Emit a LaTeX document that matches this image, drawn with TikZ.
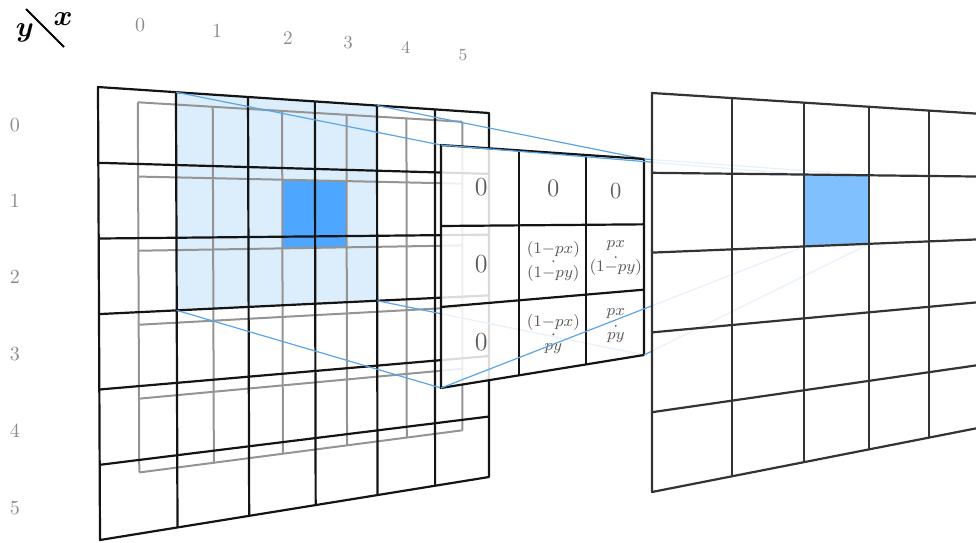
\documentclass[tikz,border=0pt]{standalone}
\usepackage{amsmath}
\definecolor{lightblue}{HTML}{DCEDFC}
\definecolor{kernblue}{HTML}{4DA6FF}
\definecolor{outblue}{HTML}{80C0FF}
\definecolor{linkblue}{HTML}{5AA5E6}
\definecolor{labgray}{HTML}{8A8A8A}
\definecolor{valgray}{HTML}{5A5A5A}
% homography from unit square to a quadrilateral (corners TL, TR, BR, BL)
\newcommand\defplane[9]{%
  \pgfmathsetmacro\hxA{#2/100}\pgfmathsetmacro\hyA{#3/100}%
  \pgfmathsetmacro\hxB{#4/100}\pgfmathsetmacro\hyB{#5/100}%
  \pgfmathsetmacro\hxC{#6/100}\pgfmathsetmacro\hyC{#7/100}%
  \pgfmathsetmacro\hxD{#8/100}\pgfmathsetmacro\hyD{#9/100}%
  \pgfmathsetmacro\dxa{\hxB-\hxC}%
  \pgfmathsetmacro\dxb{\hxD-\hxC}%
  \pgfmathsetmacro\dxc{\hxA-\hxB+\hxC-\hxD}%
  \pgfmathsetmacro\dya{\hyB-\hyC}%
  \pgfmathsetmacro\dyb{\hyD-\hyC}%
  \pgfmathsetmacro\dyc{\hyA-\hyB+\hyC-\hyD}%
  \pgfmathsetmacro\hden{\dxa*\dyb-\dxb*\dya}%
  \pgfmathsetmacro\hg{(\dxc*\dyb-\dxb*\dyc)/\hden}%
  \pgfmathsetmacro\hh{(\dxa*\dyc-\dxc*\dya)/\hden}%
  \pgfmathsetmacro\ha{\hxB-\hxA+\hg*\hxB}%
  \pgfmathsetmacro\hb{\hxD-\hxA+\hh*\hxD}%
  \pgfmathsetmacro\hd{\hyB-\hyA+\hg*\hyB}%
  \pgfmathsetmacro\he{\hyD-\hyA+\hh*\hyD}%
  \expandafter\xdef\csname hp#1a\endcsname{\ha}%
  \expandafter\xdef\csname hp#1b\endcsname{\hb}%
  \expandafter\xdef\csname hp#1c\endcsname{\hxA}%
  \expandafter\xdef\csname hp#1d\endcsname{\hd}%
  \expandafter\xdef\csname hp#1e\endcsname{\he}%
  \expandafter\xdef\csname hp#1f\endcsname{\hyA}%
  \expandafter\xdef\csname hp#1g\endcsname{\hg}%
  \expandafter\xdef\csname hp#1h\endcsname{\hh}%
}
\newcommand\homog[4]{%
  \edef\pa{\csname hp#1a\endcsname}\edef\pb{\csname hp#1b\endcsname}%
  \edef\pc{\csname hp#1c\endcsname}\edef\pd{\csname hp#1d\endcsname}%
  \edef\pe{\csname hp#1e\endcsname}\edef\pf{\csname hp#1f\endcsname}%
  \edef\pg{\csname hp#1g\endcsname}\edef\ph{\csname hp#1h\endcsname}%
  \pgfmathsetmacro\hw{\pg*(#2)+\ph*(#3)+1}%
  \pgfmathsetmacro\hX{100*(\pa*(#2)+\pb*(#3)+\pc)/\hw}%
  \pgfmathsetmacro\hY{100*(\pd*(#2)+\pe*(#3)+\pf)/\hw}%
  \coordinate (#4) at (\hX,\hY);%
}
\begin{document}
\begin{tikzpicture}[x=0.5pt,y=-0.5pt,
  blk/.style={draw=black!92,line width=1.1pt,line join=round},
  gry/.style={draw=black!42,line width=1pt},
  rblk/.style={draw=black!80,line width=1.1pt,line join=round},
  lnk/.style={draw=linkblue,line width=0.6pt},
  veil/.style={fill=white,fill opacity=0.85},
  axlab/.style={text=labgray,inner sep=0pt},
  val/.style={text=valgray,inner sep=0pt,align=center},
  bigval/.style={val,font=\fontsize{12.5}{12.5}\selectfont},
  stackA/.style={val,font={\fontsize{8.2}{12}\selectfont}},
  stackB/.style={val,font={\fontsize{7.6}{12}\selectfont}},
  prod/.style={fill=valgray}]
\useasboundingbox (0,0) rectangle (976,542);
\clip (0,0) rectangle (976,542);
\defplane{L}{98}{87}{489}{113}{489}{477}{100}{540}
\defplane{M}{441}{145}{644}{159}{644}{355}{441}{388}
\defplane{R}{652}{93}{983}{114}{983}{427}{652}{492}
\foreach \i in {0,...,6}{\foreach \j in {0,...,6}{\homog{L}{\i/6}{\j/6}{L-\i-\j}}}
\foreach \i in {0,...,5}{\foreach \j in {0,...,5}{\homog{L}{(\i+0.5)/6}{(\j+0.17)/6}{G-\i-\j}}}
\foreach \i in {0,...,3}{\foreach \j in {0,...,3}{\homog{M}{\i/3}{\j/3}{M-\i-\j}}}
\foreach \i in {0,...,2}{\foreach \j in {0,...,2}{\homog{M}{(\i+0.5)/3}{(\j+0.5)/3}{Mc-\i-\j}}}
\foreach \i in {0,...,5}{\foreach \j in {0,...,5}{\homog{R}{\i/5}{\j/5}{R-\i-\j}}}
% ---- input plane
\fill[lightblue] (L-1-0) -- (L-4-0) -- (L-4-3) -- (L-1-3) -- cycle;
\fill[kernblue] (G-2-1) -- (G-3-1) -- (G-3-2) -- (G-2-2) -- cycle;
\foreach \i in {0,...,5} \draw[gry] (G-\i-0) -- (G-\i-5);
\foreach \j in {0,...,5} \draw[gry] (G-0-\j) -- (G-5-\j);
\foreach \i in {1,...,5} \draw[blk] (L-\i-0) -- (L-\i-6);
\foreach \j in {1,...,5} \draw[blk] (L-0-\j) -- (L-6-\j);
\draw[blk] (L-0-0) -- (L-6-0) -- (L-6-6) -- (L-0-6) -- cycle;
% ---- links input -> kernel
\draw[lnk] (L-1-0) -- (M-0-0);
\draw[lnk] (L-4-0) -- (M-3-0);
\draw[lnk] (L-1-3) -- (M-0-3);
\draw[lnk] (L-4-3) -- (M-3-3);
% ---- kernel plane
\fill[veil] (M-0-0) -- (M-3-0) -- (M-3-3) -- (M-0-3) -- cycle;
\foreach \i in {1,2} \draw[blk] (M-\i-0) -- (M-\i-3);
\foreach \j in {1,2} \draw[blk] (M-0-\j) -- (M-3-\j);
\draw[blk] (M-0-0) -- (M-3-0) -- (M-3-3) -- (M-0-3) -- cycle;
\node[bigval,font=\fontsize{13}{13}\selectfont] (k00) at (Mc-0-0) {0};
\node[bigval] (k10) at (Mc-1-0) {0};
\node[bigval,font=\fontsize{11.5}{11.5}\selectfont] (k20) at (Mc-2-0) {0};
\node[bigval,font=\fontsize{13}{13}\selectfont] (k01) at (Mc-0-1) {0};
\node[bigval,font=\fontsize{13}{13}\selectfont] (k02) at (Mc-0-2) {0};
\node[stackA] (k11) at (Mc-1-1) {$(1{-}px)$\\$(1{-}py)$};
\node[stackB] (k21) at (Mc-2-1) {$px$\\$(1{-}py)$};
\node[stackA] (k12) at (Mc-1-2) {$(1{-}px)$\\$py$};
\node[stackB] (k22) at (Mc-2-2) {$px$\\$py$};
\fill[prod] (k11.center) circle (1.1);
\fill[prod] ([yshift=0.6pt]k21.center) circle (1.0);
\fill[prod] ([yshift=-0.4pt]k12.center) circle (1.1);
\fill[prod] (k22.center) circle (1.0);
% ---- links kernel -> output
\draw[lnk] (M-0-0) -- (R-2-1);
\draw[lnk] (M-3-0) -- (R-3-1);
\draw[lnk] (M-0-3) -- (R-2-2);
\draw[lnk] (M-3-3) -- (R-3-2);
% ---- output plane
\fill[veil] (R-0-0) -- (R-5-0) -- (R-5-5) -- (R-0-5) -- cycle;
\fill[outblue] (R-2-1) -- (R-3-1) -- (R-3-2) -- (R-2-2) -- cycle;
\foreach \i in {1,...,4} \draw[rblk] (R-\i-0) -- (R-\i-5);
\foreach \j in {1,...,4} \draw[rblk] (R-0-\j) -- (R-5-\j);
\draw[rblk] (R-0-0) -- (R-5-0) -- (R-5-5) -- (R-0-5) -- cycle;
% ---- axis labels
\node[font=\fontsize{15}{15}\selectfont,inner sep=0pt] (ylab) at (25,33) {$\boldsymbol{y}$};
\node[font=\fontsize{15}{15}\selectfont,inner sep=0pt] (xlab) at (63,19) {$\boldsymbol{x}$};
\coordinate (d1) at (26,9);
\coordinate (d2) at (64,47);
\draw[line width=1pt] (d1) -- (d2);
\node[axlab,font=\fontsize{10}{10}\selectfont] (t0) at (140,25) {0};
\node[axlab,font=\fontsize{10}{10}\selectfont] (t1) at (217,31) {1};
\node[axlab,font=\fontsize{9.6}{10}\selectfont] (t2) at (288,38) {2};
\node[axlab,font=\fontsize{9.2}{10}\selectfont] (t3) at (348,43) {3};
\node[axlab,font=\fontsize{8.8}{10}\selectfont] (t4) at (406,48) {4};
\node[axlab,font=\fontsize{8.5}{10}\selectfont] (t5) at (463,55) {5};
\node[axlab,font=\fontsize{10}{10}\selectfont] (l0) at (15,125) {0};
\node[axlab,font=\fontsize{10}{10}\selectfont] (l1) at (15,201) {1};
\node[axlab,font=\fontsize{10}{10}\selectfont] (l2) at (15,277) {2};
\node[axlab,font=\fontsize{10}{10}\selectfont] (l3) at (15,354) {3};
\node[axlab,font=\fontsize{10}{10}\selectfont] (l4) at (15,431) {4};
\node[axlab,font=\fontsize{10}{10}\selectfont] (l5) at (15,508) {5};
\end{tikzpicture}
\end{document}
